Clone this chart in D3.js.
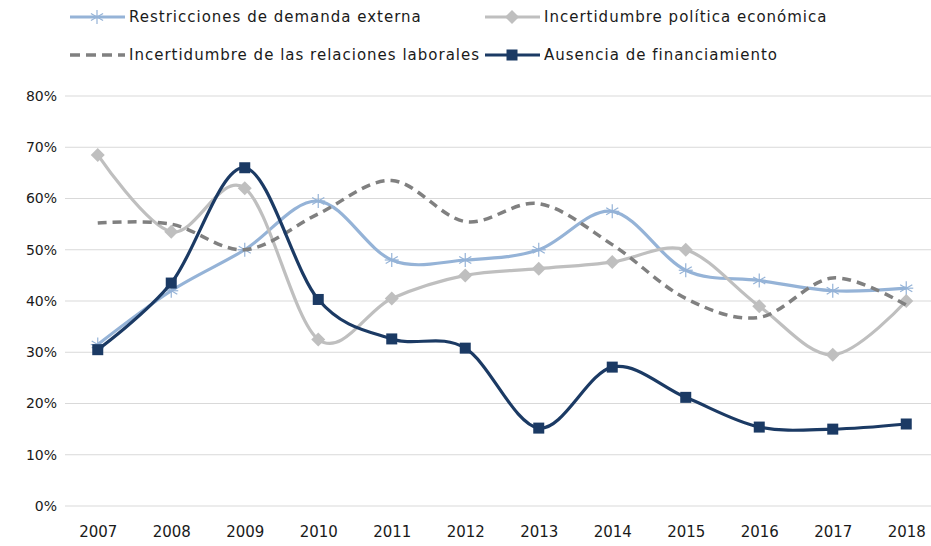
<!DOCTYPE html>
<html>
<head>
<meta charset="utf-8">
<script src="https://cdn.jsdelivr.net/npm/d3@7"></script>
<style>
  body { margin: 0; background: #fff; }
  text { font-family: "DejaVu Sans", sans-serif; fill: #1a1a1a; }
</style>
</head>
<body>
<div id="chart"></div>
<script>
// Data
const years = ["2007", "2008", "2009", "2010", "2011", "2012", "2013", "2014", "2015", "2016", "2017", "2018"];
const restricciones = [0.315, 0.42, 0.50, 0.595, 0.48, 0.48, 0.50, 0.575, 0.46, 0.44, 0.42, 0.425];
const politica = [0.685, 0.535, 0.62, 0.325, 0.405, 0.45, 0.463, 0.476, 0.50, 0.39, 0.295, 0.40];
const laborales = [0.552, 0.55, 0.50, 0.57, 0.635, 0.555, 0.59, 0.51, 0.405, 0.368, 0.445, 0.392];
const financiamiento = [0.305, 0.435, 0.66, 0.403, 0.326, 0.308, 0.152, 0.271, 0.212, 0.154, 0.15, 0.16];
const yTicks = [0, 0.1, 0.2, 0.3, 0.4, 0.5, 0.6, 0.7, 0.8];

const series = [
  { name: "Restricciones de demanda externa", values: restricciones, color: "#95b3d7", dash: null, marker: "star", lx: 70, ly: 17 },
  { name: "Incertidumbre política económica", values: politica, color: "#bfbfbf", dash: null, marker: "diamond", lx: 485, ly: 17 },
  { name: "Incertidumbre de las relaciones laborales", values: laborales, color: "#808080", dash: "9,6", marker: null, lx: 70, ly: 55 },
  { name: "Ausencia de financiamiento", values: financiamiento, color: "#1b3a64", dash: null, marker: "square", lx: 485, ly: 55 },
];

// Dimensions
const dimensions = { width: 931, height: 546, left: 65, right: 931, top: 96, bottom: 506 };

const svg = d3.select("#chart").append("svg")
  .attr("width", dimensions.width)
  .attr("height", dimensions.height);

// Scales
const xScale = d3.scalePoint().domain(years).range([61, 943]).padding(0.5);
const yScale = d3.scaleLinear().domain([0, 0.8]).range([dimensions.bottom, dimensions.top]);

// Gridlines
svg.append("g").selectAll("line").data(yTicks).join("line")
  .attr("x1", dimensions.left).attr("x2", dimensions.right)
  .attr("y1", d => yScale(d)).attr("y2", d => yScale(d))
  .attr("stroke", "#d9d9d9").attr("stroke-width", 1);

// Y axis
const yAxis = d3.axisLeft(yScale).tickValues(yTicks).tickFormat(d3.format(".0%")).tickSize(0).tickPadding(6);
svg.append("g").attr("transform", `translate(${dimensions.left - 2},0)`).call(yAxis)
  .call(g => g.select(".domain").remove())
  .selectAll("text").style("font-size", "14px").attr("fill", "#1a1a1a");

// X axis
const xAxis = d3.axisBottom(xScale).tickSize(0).tickPadding(0);
svg.append("g").attr("transform", `translate(0,${dimensions.bottom + 20})`).call(xAxis)
  .call(g => g.select(".domain").remove())
  .selectAll("text").style("font-size", "15px").attr("fill", "#1a1a1a");

// Markers
function drawMarker(g, type, x, y, color) {
  if (type === "square") {
    g.append("rect").attr("x", x - 5.5).attr("y", y - 5.5).attr("width", 11).attr("height", 11).attr("fill", color);
  } else if (type === "diamond") {
    g.append("path").attr("d", `M${x},${y - 7}L${x + 7},${y}L${x},${y + 7}L${x - 7},${y}Z`).attr("fill", color);
  } else if (type === "star") {
    const r = 7;
    [0, 60, 120].forEach(a => {
      const rad = (a + 90) * Math.PI / 180;
      g.append("line")
        .attr("x1", x - r * Math.cos(rad)).attr("y1", y - r * Math.sin(rad))
        .attr("x2", x + r * Math.cos(rad)).attr("y2", y + r * Math.sin(rad))
        .attr("stroke", color).attr("stroke-width", 1.2);
    });
    g.append("line").attr("x1", x - r).attr("x2", x + r).attr("y1", y).attr("y2", y)
      .attr("stroke", color).attr("stroke-width", 1.2);
  }
}

// Lines
const line = d3.line()
  .x((d, i) => xScale(years[i]))
  .y(d => yScale(d))
  .curve(d3.curveCardinal.tension(0));

series.forEach(s => {
  const g = svg.append("g");
  g.append("path")
    .attr("d", line(s.values))
    .attr("fill", "none")
    .attr("stroke", s.color)
    .attr("stroke-width", s.dash ? 3.5 : 3.2)
    .attr("stroke-dasharray", s.dash);
  if (s.marker) {
    s.values.forEach((v, i) => drawMarker(g, s.marker, xScale(years[i]), yScale(v), s.color));
  }
});

// Legend
series.forEach(s => {
  const g = svg.append("g");
  g.append("line")
    .attr("x1", s.lx).attr("x2", s.lx + 55)
    .attr("y1", s.ly).attr("y2", s.ly)
    .attr("stroke", s.color).attr("stroke-width", s.dash ? 3.5 : 3)
    .attr("stroke-dasharray", s.dash ? "10,6" : null);
  if (s.marker) drawMarker(g, s.marker, s.lx + 27, s.ly, s.color);
  g.append("text")
    .attr("x", s.lx + 59).attr("y", s.ly)
    .attr("dy", "0.35em")
    .style("font-size", "15px")
    .style("letter-spacing", "1px")
    .text(s.name);
});
</script>
</body>
</html>
